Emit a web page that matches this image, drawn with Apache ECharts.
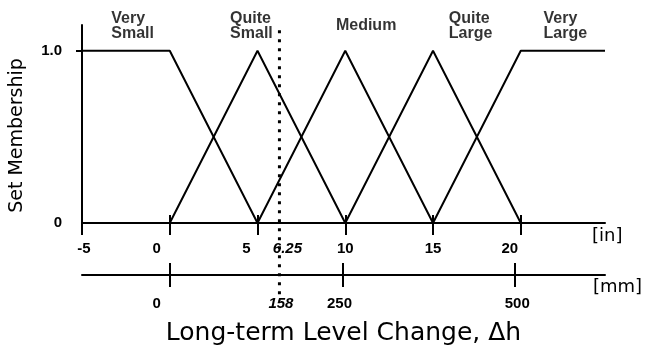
<!DOCTYPE html>
<html>
<head>
<meta charset="utf-8">
<script src="https://cdn.jsdelivr.net/npm/echarts@6/dist/echarts.min.js"></script>
<style>html,body{margin:0;padding:0;background:#fff}#c{width:652px;height:354px}</style>
</head>
<body>
<div id="c"></div>
<script>
// ---- data (inches on the main axis) ----
const verySmallX = [-5, 0, 5];
const verySmallY = [1, 1, 0];
const quiteSmallX = [0, 5, 10];
const quiteSmallY = [0, 1, 0];
const mediumX = [5, 10, 15];
const mediumY = [0, 1, 0];
const quiteLargeX = [10, 15, 20];
const quiteLargeY = [0, 1, 0];
const veryLargeX = [15, 20, 24.8];
const veryLargeY = [0, 1, 1];

const markerIn = 6.25;              // dotted reference line
const markerSpan = [1.12, -0.45];   // its vertical extent (membership units)

const inTicks = [-5, 0, 5, 10, 15, 20];
const inTickLabels = [-5, 0, 5, 6.25, 10, 15, 20];
const mmTicks = [0, 250, 500];
const mmTickLabels = [0, 158, 250, 500];
const yTickLabels = [0, 1];

const categoryNames = ['Very\nSmall', 'Quite\nSmall', 'Medium', 'Quite\nLarge', 'Very\nLarge'];
const categoryX = [-3.36, 3.41, 9.44, 15.87, 21.27];
const categoryY = [1.145, 1.145, 1.145, 1.145, 1.145];

const IN_MIN = -5, IN_MAX = 24.8, MM_PER_IN = 25.4;

function zip(xs, ys) { return xs.map((x, i) => [x, ys[i]]); }

const FF = 'DejaVu Sans';
const LF = '"Liberation Sans", Arial, sans-serif';
const tickFont = { fontFamily: LF, fontWeight: 'bold', fontSize: 15, color: '#000' };
const lineSt = { color: '#000', width: 2 };

const chart = echarts.init(document.getElementById('c'), null, { renderer: 'canvas' });

function memSeries(name, xs, ys) {
  return {
    name, type: 'line', xAxisIndex: 0, yAxisIndex: 0, data: zip(xs, ys),
    symbol: 'none', lineStyle: { color: '#000', width: 2 }, silent: true
  };
}

const option = {
  animation: false,
  backgroundColor: '#fff',
  grid: { left: 81, right: 47, top: 25, bottom: 131 },
  xAxis: [
    {
      type: 'value', min: IN_MIN, max: IN_MAX, position: 'bottom',
      axisLine: { onZero: false, lineStyle: lineSt },
      splitLine: { show: false },
      axisTick: { customValues: inTicks, length: 12, lineStyle: lineSt },
      axisLabel: {
        customValues: inTickLabels, margin: 18, ...tickFont,
        formatter: v => {
          if (v === 6.25) return '{it|6.25}';
          if (v === 0) return '{l13|0}';
          if (v === 5) return '{l11|5}';
          if (v === 20) return '{l11|20}';
          if (v === -5) return '{r2|-5}';
          return '{n|' + v + '}';
        },
        rich: {
          n: { ...tickFont },
          it: { ...tickFont, fontStyle: 'italic', padding: [0, 0, 0, 16] },
          l13: { ...tickFont, padding: [0, 26, 0, 0] },
          l11: { ...tickFont, padding: [0, 22, 0, 0] },
          r2: { ...tickFont, padding: [0, 0, 0, 4] }
        }
      },
      name: '[in]', nameLocation: 'end', nameGap: -13,
      nameTextStyle: { fontFamily: FF, fontSize: 18, color: '#000', verticalAlign: 'top', align: 'left', padding: [4, 0, 0, 0] }
    },
    {
      type: 'value', min: IN_MIN, max: IN_MAX, position: 'bottom',
      axisLine: { show: false, onZero: false }, splitLine: { show: false },
      axisTick: { inside: true, customValues: inTicks, length: 8, lineStyle: lineSt },
      axisLabel: { show: false },
      name: 'Long-term Level Change, \u0394h', nameLocation: 'middle', nameGap: 98,
      nameTextStyle: { fontFamily: FF, fontSize: 25, color: '#000' }
    },
    {
      type: 'value', min: IN_MIN * MM_PER_IN, max: IN_MAX * MM_PER_IN, position: 'bottom', offset: 52,
      axisLine: { onZero: false, lineStyle: lineSt }, splitLine: { show: false },
      axisTick: { customValues: mmTicks, length: 12, lineStyle: lineSt },
      axisLabel: {
        customValues: mmTickLabels, margin: 21, ...tickFont,
        formatter: v => {
          if (v === 158) return '{it|158}';
          if (v === 0) return '{l13|0}';
          if (v === 250) return '{l3|250}';
          if (v === 500) return '{r2|500}';
          return '{n|' + v + '}';
        },
        rich: {
          n: { ...tickFont },
          it: { ...tickFont, fontStyle: 'italic', padding: [0, 0, 0, 4] },
          l13: { ...tickFont, padding: [0, 26, 0, 0] },
          l3: { ...tickFont, padding: [0, 6, 0, 0] },
          r2: { ...tickFont, padding: [0, 0, 0, 4] }
        }
      },
      name: '[mm]', nameLocation: 'end', nameGap: -12,
      nameTextStyle: { fontFamily: FF, fontSize: 18, color: '#000', verticalAlign: 'top', align: 'left', padding: [3, 0, 0, 0] }
    },
    {
      type: 'value', min: IN_MIN * MM_PER_IN, max: IN_MAX * MM_PER_IN, position: 'bottom', offset: 52,
      axisLine: { show: false, onZero: false }, splitLine: { show: false },
      axisTick: { inside: true, customValues: mmTicks, length: 12, lineStyle: lineSt },
      axisLabel: { show: false }
    }
  ],
  yAxis: {
    type: 'value', min: 0, max: 1.15,
    axisLine: { show: true, onZero: false, lineStyle: lineSt },
    splitLine: { show: false },
    axisTick: { show: true, customValues: [1], length: 6, lineStyle: lineSt },
    axisLabel: {
      customValues: yTickLabels, margin: 20, ...tickFont,
      formatter: v => (v === 1 ? '1.0' : '0')
    },
    name: 'Set Membership', nameLocation: 'middle', nameRotate: 90, nameGap: 55,
    nameTextStyle: { fontFamily: FF, fontSize: 19, color: '#000', padding: [0, 23, 0, 0] }
  },
  series: [
    memSeries('Very Small', verySmallX, verySmallY),
    memSeries('Quite Small', quiteSmallX, quiteSmallY),
    memSeries('Medium', mediumX, mediumY),
    memSeries('Quite Large', quiteLargeX, quiteLargeY),
    memSeries('Very Large', veryLargeX, veryLargeY),
    {
      type: 'line', xAxisIndex: 0, yAxisIndex: 0, clip: false, silent: true,
      data: markerSpan.map(y => [markerIn, y]), symbol: 'none',
      lineStyle: { color: '#000', width: 3, type: [3, 6] }
    },
    {
      type: 'scatter', xAxisIndex: 0, yAxisIndex: 0, clip: false, silent: true,
      symbolSize: 1, itemStyle: { color: 'rgba(0,0,0,0)' },
      data: categoryNames.map((n, i) => ({ value: [categoryX[i], categoryY[i]], name: n })),
      label: {
        show: true, position: 'right', distance: 0, formatter: p => p.name,
        fontFamily: LF, fontWeight: 'bold', fontSize: 16, lineHeight: 15, color: '#000', align: 'left'
      }
    }
  ]
};
chart.setOption(option);
</script>
</body>
</html>
